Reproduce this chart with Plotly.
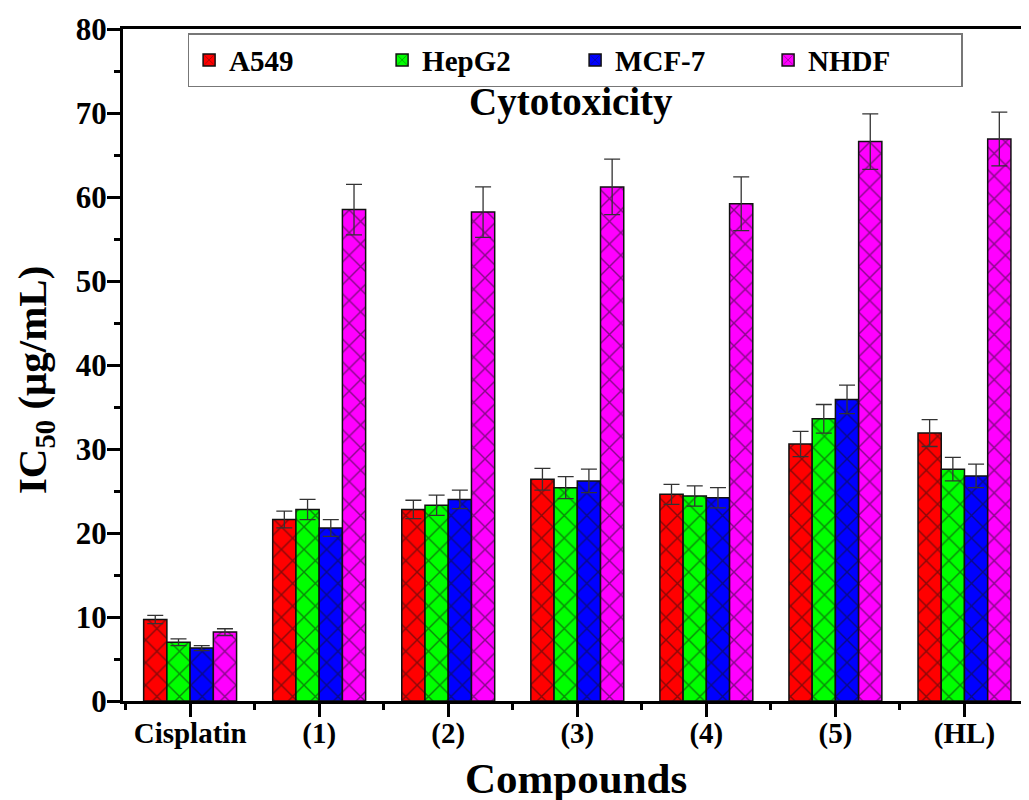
import plotly.graph_objects as go

categories = ["Cisplatin", "(1)", "(2)", "(3)", "(4)", "(5)", "(HL)"]
series_names = ["A549", "HepG2", "MCF-7", "NHDF"]
a549 = [9.7, 21.6, 22.8, 26.4, 24.6, 30.6, 31.9]
hepg2 = [7.0, 22.8, 23.3, 25.4, 24.4, 33.6, 27.6]
mcf7 = [6.3, 20.6, 24.0, 26.2, 24.2, 35.9, 26.8]
nhdf = [8.2, 58.5, 58.2, 61.2, 59.2, 66.6, 66.9]
a549_err = [0.5, 1.0, 1.1, 1.3, 1.2, 1.5, 1.6]
hepg2_err = [0.4, 1.2, 1.2, 1.3, 1.2, 1.7, 1.4]
mcf7_err = [0.3, 1.0, 1.1, 1.4, 1.2, 1.7, 1.4]
nhdf_err = [0.4, 3.0, 3.0, 3.3, 3.2, 3.3, 3.2]
colors = ["#FF0000", "#00FF00", "#0000FF", "#FF00FF"]
y_ticks = [0, 10, 20, 30, 40, 50, 60, 70, 80]

values = [a549, hepg2, mcf7, nhdf]
errors = [a549_err, hepg2_err, mcf7_err, nhdf_err]
xpos = list(range(len(categories)))

font_family = "Liberation Serif"

fig = go.Figure()
for name, vals, errs, col in zip(series_names, values, errors, colors):
    fig.add_trace(go.Bar(
        x=xpos, y=vals, name=name,
        marker=dict(color=col, line=dict(color="#111", width=1.5),
                    pattern=dict(shape="x", fgcolor="#111", size=16, solidity=0.17)),
        error_y=dict(type="data", array=errs, visible=True, color="#333",
                     thickness=1.3, width=8),
    ))

# The page body has an 8px margin, so margins are offset by 8px.
fig.update_layout(
    width=1029, height=800,
    barmode="group", bargap=0.28, bargroupgap=0.0,
    plot_bgcolor="white", paper_bgcolor="white",
    margin=dict(l=115, r=8, t=21, b=107, autoexpand=False),
    font=dict(family=font_family, color="black"),
    showlegend=True,
    legend=dict(orientation="h", x=0.499, xanchor="center", y=0.994, yanchor="top",
                bordercolor="#777", borderwidth=1.5, bgcolor="white",
                font=dict(family=font_family, size=29, color="black", weight="bold"),
                entrywidth=148, entrywidthmode="pixels", traceorder="normal"),
    annotations=[
        dict(text="<b>Cytotoxicity</b>", x=0.4945, y=0.891, xref="paper", yref="paper",
             xanchor="center", yanchor="middle", showarrow=False,
             font=dict(family=font_family, size=39, color="black")),
        dict(text="<b>Compounds</b>", x=0.4995, y=-0.1146, xref="paper", yref="paper",
             xanchor="center", yanchor="middle", showarrow=False,
             font=dict(family=font_family, size=43, color="black")),
        dict(text="<b>IC<sub>50</sub> (μg/mL)</b>", x=-0.097, y=0.4777, xref="paper", yref="paper",
             xanchor="center", yanchor="middle", showarrow=False, textangle=-90,
             font=dict(family=font_family, size=41, color="black")),
    ],
)

fig.update_xaxes(
    range=[-0.52, 6.5], tickmode="array", tickvals=xpos, ticktext=["<b>%s</b>" % c for c in categories],
    tickfont=dict(family=font_family, size=29, color="black"),
    showline=True, linewidth=3, linecolor="black", mirror=True,
    ticks="outside", ticklen=13, tickwidth=3, tickcolor="black", ticklabelstandoff=-9,
    minor=dict(tickmode="array", tickvals=[i + 0.5 for i in range(-1, 7)], ticks="outside", ticklen=6, tickwidth=3, tickcolor="black"),
    showgrid=False, zeroline=False, automargin=False,
)
fig.update_yaxes(
    range=[0, 80], tickmode="array", tickvals=y_ticks,
    ticktext=["<b>%d</b>" % v for v in y_ticks],
    tickfont=dict(family=font_family, size=31, color="black"),
    showline=True, linewidth=3, linecolor="black",
    ticks="outside", ticklen=13, tickwidth=3, tickcolor="black", ticklabelstandoff=-6,
    minor=dict(tickmode="array", tickvals=[v + 5 for v in y_ticks[:-1]], ticks="outside", ticklen=6, tickwidth=3, tickcolor="black"),
    showgrid=False, zeroline=False, automargin=False,
)

fig.write_html("out.html")
